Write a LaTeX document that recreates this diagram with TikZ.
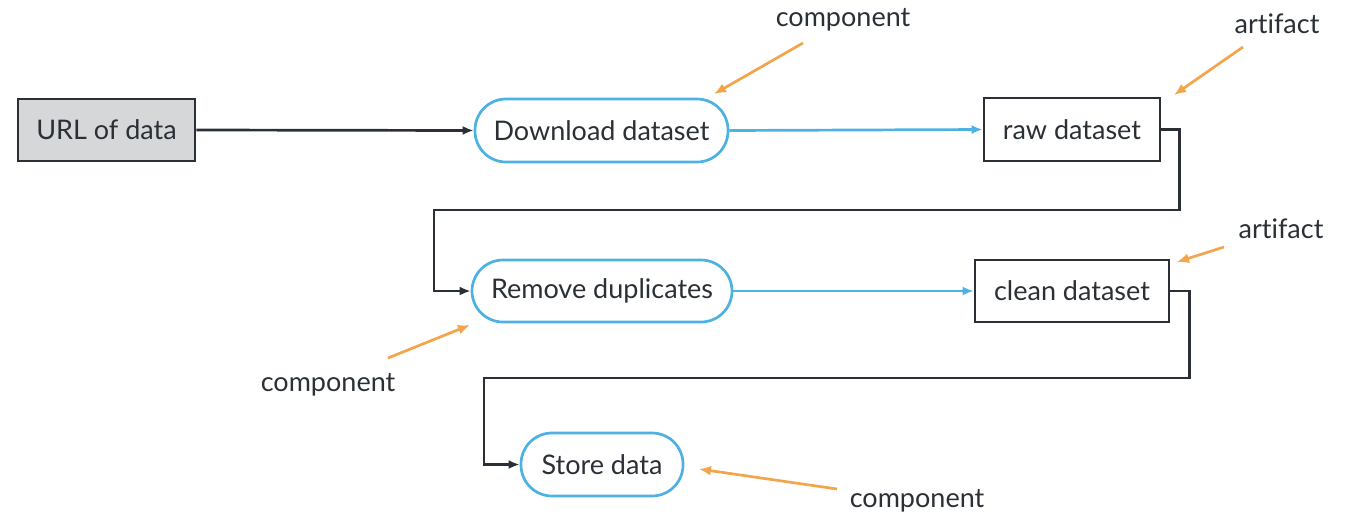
\documentclass[tikz,border=0pt]{standalone}
\usepackage{fontspec}
\setmainfont{Lato}[Ligatures=CommonOff]
\usetikzlibrary{arrows.meta}
\definecolor{dk}{HTML}{2B3037}
\definecolor{bl}{HTML}{4DB1E2}
\definecolor{og}{HTML}{F3A54C}
\definecolor{gr}{HTML}{D6D7D9}
\tikzset{
  base/.style={font=\fontsize{27}{32}\selectfont, text=dk, line width=2.7pt, inner sep=0pt},
  boxnode/.style={base, draw=dk, rectangle},
  pillnode/.style={base, draw=bl, rectangle, rounded corners=31pt},
  note/.style={font=\fontsize{27}{32}\selectfont, text=dk, inner sep=0pt},
  darr/.style={draw=dk, line width=2.7pt, -{Latex[length=11pt,width=9pt]}},
  barr/.style={draw=bl, line width=2.7pt, -{Latex[length=11pt,width=9pt]}},
  oarr/.style={draw=og, line width=2.7pt, -{Latex[length=12pt,width=10pt]}},
}
\begin{document}
\begin{tikzpicture}[x=1pt,y=-1pt]
\useasboundingbox (0,0) rectangle (1350,528);
\node[boxnode, fill=gr, minimum width=177pt, minimum height=62pt] (url) at (106.5,130) {URL of data};
\node[pillnode, minimum width=253pt, minimum height=63pt] (dl) at (601.5,130.5) {Download dataset};
\node[boxnode, minimum width=176pt, minimum height=63pt] (raw) at (1072,129.5) {raw dataset};
\node[pillnode, minimum width=260pt, minimum height=62pt] (rd) at (602,291) {Remove duplicates};
\node[boxnode, minimum width=194pt, minimum height=62pt] (clean) at (1072,291) {clean dataset};
\node[pillnode, minimum width=162pt, minimum height=63pt] (st) at (602,464.5) {Store data};

\node[note] (c1) at (843,20) {component};
\node[note] (a1) at (1277,24) {artifact};
\node[note] (a2) at (1281,229) {artifact};
\node[note] (c2) at (328,385) {component};
\node[note] (c3) at (917,501) {component};

\coordinate (c1s) at (803,43); \coordinate (c1e) at (714,94);
\coordinate (a1s) at (1243,47); \coordinate (a1e) at (1174,95);
\coordinate (a2s) at (1224,247); \coordinate (a2e) at (1177,262);
\coordinate (c2s) at (388,358); \coordinate (c2e) at (470,325);
\coordinate (c3s) at (837,489); \coordinate (c3e) at (699,469);

\draw[darr] (url.east) -- (dl.west);
\draw[barr] (dl.east) -- (raw.west);
\draw[darr] (raw.east) -- ++(18,0) |- (434,210) |- (rd.west);
\draw[barr] (rd.east) -- (clean.west);
\draw[darr] (clean.east) -- ++(19,0) |- (484,378) |- (st.west);

\draw[oarr] (c1s) -- (c1e);
\draw[oarr] (a1s) -- (a1e);
\draw[oarr] (a2s) -- (a2e);
\draw[oarr] (c2s) -- (c2e);
\draw[oarr] (c3s) -- (c3e);
\end{tikzpicture}
\end{document}
